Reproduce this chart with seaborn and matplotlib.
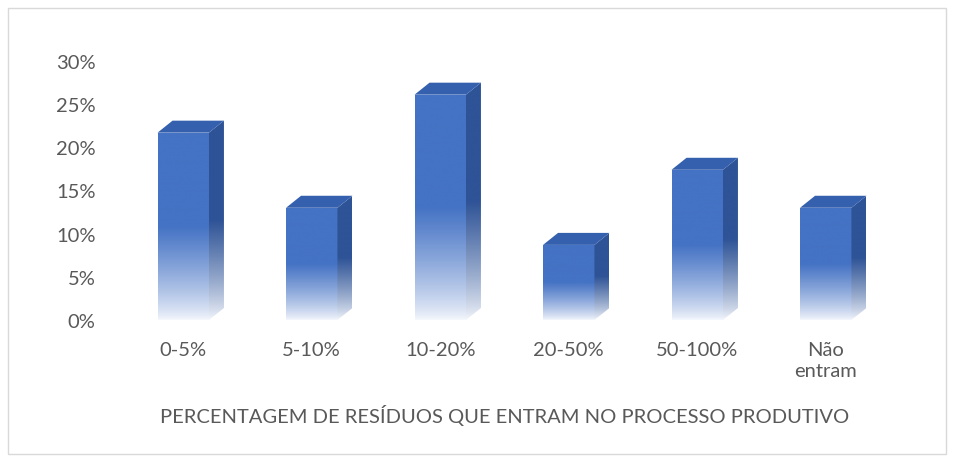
import numpy as np
import pandas as pd
import matplotlib
matplotlib.use("Agg")
import matplotlib.pyplot as plt
import seaborn as sns
from matplotlib.patches import Polygon, Rectangle
from matplotlib.colors import to_rgb

categories = ["0-5%", "5-10%", "10-20%", "20-50%", "50-100%", "Não\nentram"]
values = [0.217, 0.130, 0.261, 0.087, 0.174, 0.130]
y_ticks = [0, 0.05, 0.10, 0.15, 0.20, 0.25, 0.30]
y_tick_labels = ["0%", "5%", "10%", "15%", "20%", "25%", "30%"]
x_title = "PERCENTAGEM DE RESÍDUOS QUE ENTRAM NO PROCESSO PRODUTIVO"

sns.set_theme(style="white")
plt.rcParams["font.family"] = ["Lato", "DejaVu Sans"]
text_color = "#595959"
fs = 14.5

W, H = 956, 464
fig = plt.figure(figsize=(W / 100, H / 100), dpi=100)
ax = fig.add_axes([119 / W, (H - 321) / H, 771 / W, (321 - 62) / H])

df = pd.DataFrame({"cat": categories, "val": values})
sns.barplot(data=df, x="cat", y="val", width=0.4, ax=ax, color="#4472C4")

ax.set_xlim(-0.5, 5.5)
ax.set_ylim(0, 0.30)

front_top = np.array(to_rgb("#4472C4"))
side_top = np.array(to_rgb("#2E5396"))
top_col = "#3560AE"
white = np.array([0.96, 0.97, 0.99])

def grad(c):
    n = 200
    t = np.linspace(0, 1, n)  # 0 bottom -> 1 top
    f = np.clip(t / 0.5, 0, 1) ** 0.8
    arr = white[None, :] * (1 - f[:, None]) + c[None, :] * f[:, None]
    return arr[::-1][:, None, :]

dx = 15 / 128.5
dy = 12 / (259 / 0.30)

for p in list(ax.patches):
    x0, w, h = p.get_x(), p.get_width(), p.get_height()
    p.set_facecolor("none")
    p.set_edgecolor("none")
    im = ax.imshow(grad(front_top), extent=(x0, x0 + w, 0, h), aspect="auto",
                   origin="upper", zorder=2)
    im.set_clip_path(p)
    side = Polygon([(x0 + w, 0), (x0 + w + dx, dy), (x0 + w + dx, h + dy), (x0 + w, h)],
                   closed=True, facecolor="none", edgecolor="none")
    ax.add_patch(side)
    im2 = ax.imshow(grad(side_top), extent=(x0 + w, x0 + w + dx, 0, h + dy), aspect="auto",
                    origin="upper", zorder=2)
    im2.set_clip_path(side)
    top = Polygon([(x0, h), (x0 + dx, h + dy), (x0 + w + dx, h + dy), (x0 + w, h)],
                  closed=True, facecolor=top_col, edgecolor="none", zorder=3)
    ax.add_patch(top)

ax.set_xlim(-0.5, 5.5)
ax.set_ylim(0, 0.30)
ax.set_yticks(y_ticks)
ax.set_yticklabels(y_tick_labels)
for s in ax.spines.values():
    s.set_visible(False)
ax.grid(False)
ax.tick_params(axis="y", length=0, pad=17, labelsize=fs, labelcolor=text_color)
ax.tick_params(axis="x", length=0, pad=15, labelsize=fs, labelcolor=text_color)
for lab in ax.get_xticklabels():
    lab.set_linespacing(1.3)
ax.set_ylabel("")
ax.set_xlabel(x_title, fontsize=fs, color=text_color, labelpad=18)
ax.set_facecolor("none")

fig.patches.append(Rectangle((8 / W, 9 / H), (946 - 8) / W, (455 - 9) / H,
                             transform=fig.transFigure, fill=False,
                             edgecolor="#D9D9D9", linewidth=1))

fig.savefig("out.png", dpi=100)
